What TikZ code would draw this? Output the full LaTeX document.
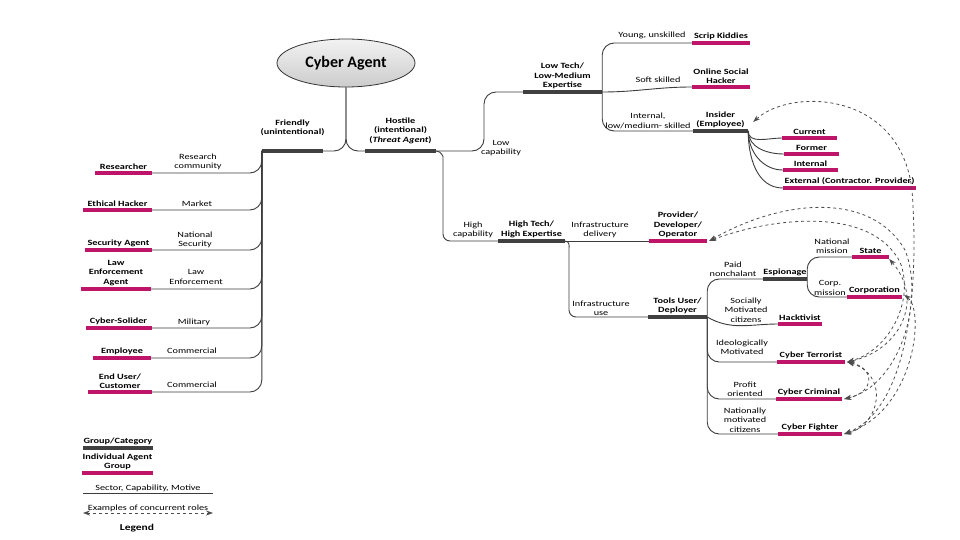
\documentclass[tikz,border=0pt]{standalone}
\usepackage{fontspec}
\setmainfont{Carlito}
\newfontfamily\diafont{Carlito}[FakeStretch=1.28]
\usepackage{tikz}
\usepackage{xcolor}
\usetikzlibrary{shapes.geometric, arrows.meta}

\definecolor{grpgray}{RGB}{64,64,64}
\definecolor{agtpink}{RGB}{190,20,105}
\definecolor{linkgray}{RGB}{60,60,60}
\newcommand{\diasize}{\fontsize{8}{9.3}\selectfont}

\tikzset{
    grp/.style={fill=grpgray, inner sep=0pt, minimum height=4pt},
    agt/.style={fill=agtpink, inner sep=0pt, minimum height=4pt},
    txt/.style={font=\diafont\diasize\bfseries, align=center, inner sep=1pt},
    lbl/.style={font=\diafont\diasize, align=center, inner sep=1pt},
    link/.style={draw=linkgray, line width=0.9pt, rounded corners=12pt},
    concur/.style={draw=black!70, dashed, line width=0.8pt, {Stealth[length=7pt,width=5pt]}-{Stealth[length=7pt,width=5pt]}},
}

\begin{document}
\begin{tikzpicture}[x=1pt, y=-1pt]
    \useasboundingbox (0,0) rectangle (960,540);

    \node[ellipse, draw=black!80, line width=0.8pt, top color=gray!10, bottom color=gray!40, minimum width=138pt, minimum height=48pt, font=\fontsize{16}{18}\selectfont\bfseries] (ca) at (346,63) {Cyber Agent};

    \node[grp, minimum width=61pt, label={[txt, label distance=12pt]above:{Friendly\\(unintentional)}}] (fr) at (292.5,151) {};
    \node[grp, minimum width=71pt, label={[txt, label distance=4pt]above:{Hostile\\(intentional)\\(\textit{Threat Agent})}}] (hos) at (400.5,151) {};
    \draw[link] (ca.south) |- (fr.east);
    \draw[link] (ca.south) |- (hos.west);

    \node[agt, minimum width=57pt, label={[txt]above:Researcher}] (res) at (123.5,173) {};
    \node[agt, minimum width=69pt, label={[txt]above:Ethical Hacker}] (eth) at (117.5,210) {};
    \node[agt, minimum width=67pt, label={[txt]above:Security Agent}] (sec) at (118.5,250) {};
    \node[agt, minimum width=70pt, label={[txt]above:{Law\\Enforcement\\Agent}}] (law) at (116,289) {};
    \node[agt, minimum width=66pt, label={[txt]above:Cyber-Solider}] (sol) at (118.5,328) {};
    \node[agt, minimum width=58pt, label={[txt]above:Employee}] (emp) at (122,358) {};
    \node[agt, minimum width=64pt, label={[txt]above:{End User/\\Customer}}] (enduser) at (120,392) {};
    \draw[link] (fr.west) |- (res.east);
    \draw[link] (fr.west) |- (eth.east);
    \draw[link] (fr.west) |- (sec.east);
    \draw[link] (fr.west) |- (law.east);
    \draw[link] (fr.west) |- (sol.east);
    \draw[link] (fr.west) |- (emp.east);
    \draw[link] (fr.west) |- (enduser.east);
    \node[lbl] (l-res) at (198,162) {Research\\community};
    \node[lbl] (l-eth) at (197,204) {Market};
    \node[lbl] (l-sec) at (195,240) {National\\Security};
    \node[lbl] (l-law) at (196,277) {Law\\Enforcement};
    \node[lbl] (l-sol) at (194,322) {Military};
    \node[lbl] (l-emp) at (192,351) {Commercial};
    \node[lbl] (l-end) at (192,385) {Commercial};

    \node[grp, minimum width=79pt, label={[txt]above:{Low Tech/\\Low-Medium\\Expertise}}] (low) at (562.5,92) {};
    \node[grp, minimum width=67pt, label={[txt]above:{High Tech/\\High Expertise}}] (ht) at (531.5,241) {};
    \draw[link] (hos.east) -- (484,151) |- (low.west);
    \draw[link, rounded corners=7pt] (hos.east) to[out=0,in=90] (443,163) |- (ht.west);
    \node[lbl] (l-low) at (501,148) {Low\\capability};
    \node[lbl] (l-ht) at (473,230) {High\\capability};

    \node[agt, minimum width=58pt, label={[txt]above:Scrip Kiddies}] (sk) at (721,43) {};
    \node[agt, minimum width=58pt, label={[txt]above:{Online Social\\Hacker}}] (osh) at (721,87) {};
    \node[grp, minimum width=55pt, label={[txt]above:{Insider\\(Employee)}}] (ins) at (720.5,131) {};
    \draw[link] (low.east) |- (sk.west);
    \draw[link] (low.east) to[out=0,in=180] (osh.west);
    \draw[link] (low.east) |- (ins.west);
    \node[lbl] (l-sk) at (652,35) {Young, unskilled};
    \node[lbl] (l-osh) at (658,80) {Soft skilled};
    \node[lbl] (l-ins) at (648,121) {Internal,\\low/medium- skilled};

    \node[agt, minimum width=55pt, label={[txt]above:Current}] (cur) at (809.5,138) {};
    \node[agt, minimum width=55pt, label={[txt]above:Former}] (former) at (811.5,154) {};
    \node[agt, minimum width=55pt, label={[txt]above:Internal}] (int) at (810.5,170) {};
    \node[agt, minimum width=133pt, label={[txt]above:External (Contractor. Provider)}] (ext) at (849.5,188) {};
    \draw[link] (ins.east) to[out=-90,in=180] (cur.west);
    \draw[link] (ins.east) to[out=-90,in=180] (former.west);
    \draw[link] (ins.east) to[out=-90,in=180] (int.west);
    \draw[link] (ins.east) to[out=-90,in=180] (ext.west);

    \node[agt, minimum width=58pt, label={[txt]above:{Provider/\\Developer/\\Operator}}] (prov) at (678,241) {};
    \node[grp, minimum width=59pt, label={[txt]above:{Tools User/\\Deployer}}] (tools) at (677.5,317) {};
    \draw[link] (ht.east) -- (prov.west);
    \draw[link, rounded corners=7pt] (ht.east) to[out=0,in=90] (569,253) |- (tools.west);
    \node[lbl] (l-prov) at (600,230) {Infrastructure\\delivery};
    \node[lbl] (l-tools) at (601,308) {Infrastructure\\use};

    \node[grp, minimum width=44pt, label={[txt]above:Espionage}] (esp) at (785,279) {};
    \node[agt, minimum width=44pt, label={[txt]above:Hacktivist}] (hack) at (800,324) {};
    \node[agt, minimum width=68pt, label={[txt]above:Cyber Terrorist}] (ter) at (811,362) {};
    \node[agt, minimum width=66pt, label={[txt]above:Cyber Criminal}] (crim) at (809,399) {};
    \node[agt, minimum width=64pt, label={[txt]above:Cyber Fighter}] (fig) at (810,434) {};
    \draw[link] (tools.east) |- (esp.west);
    \draw[link] (tools.east) to[out=-30,in=180] (hack.west);
    \draw[link] (tools.east) |- (ter.west);
    \draw[link] (tools.east) |- (crim.west);
    \draw[link] (tools.east) |- (fig.west);
    \node[lbl] (l-esp) at (733,269) {Paid\\nonchalant};
    \node[lbl] (l-hack) at (746,310) {Socially\\Motivated\\citizens};
    \node[lbl] (l-ter) at (742,347) {Ideologically\\Motivated};
    \node[lbl] (l-crim) at (745,389) {Profit\\oriented};
    \node[lbl] (l-fig) at (745,420) {Nationally\\motivated\\citizens};

    \node[agt, minimum width=37pt, label={[txt]above:State}] (state) at (870.5,257) {};
    \node[agt, minimum width=55pt, label={[txt]above:Corporation}] (corp) at (874.5,297) {};
    \draw[link] (esp.east) |- (state.west);
    \draw[link] (esp.east) |- (corp.west);
    \node[lbl] (l-state) at (832,246) {National\\mission};
    \node[lbl] (l-corp) at (830,288) {Corp.\\mission};

    \draw[concur] ([xshift=5pt,yshift=9pt]ins.east) .. controls (790,88) and (900,90) .. (912,190) .. controls (920,300) and (905,410) .. ([xshift=2pt]fig.east);
    \draw[concur] ([xshift=2pt]prov.east) .. controls (780,200) and (870,190) .. (905,250) .. controls (925,300) and (900,385) .. ([xshift=2pt]crim.east);
    \draw[concur] ([xshift=2pt]prov.east) .. controls (770,218) and (870,205) .. (900,262) .. controls (915,300) and (890,350) .. ([xshift=2pt]ter.east);
    \draw[concur] ([yshift=-2pt]state.east) .. controls (925,300) and (900,350) .. ([xshift=2pt]ter.east);
    \draw[concur] ([xshift=2pt,yshift=2pt]corp.east) .. controls (925,310) and (915,410) .. ([xshift=2pt]fig.east);
    \draw[concur] ([xshift=2pt]ter.east) .. controls (875,368) and (875,392) .. ([xshift=2pt]crim.east);
    \draw[concur] ([xshift=2pt]ter.east) .. controls (890,375) and (880,425) .. ([xshift=2pt]fig.east);

    \node[grp, minimum width=70pt, label={[txt]above:Group/Category}] (lg-grp) at (118,448) {};
    \node[agt, minimum width=71pt, label={[txt]above:{Individual Agent\\Group}}] (lg-agt) at (117.5,473) {};
    \coordinate (lg-a) at (83,493);
    \coordinate (lg-b) at (213,493);
    \draw[link] (lg-a) -- (lg-b) node[lbl, midway, above] (lg-sec) {Sector, Capability, Motive};
    \coordinate (lg-c) at (83,513);
    \coordinate (lg-d) at (213,513);
    \draw[concur] (lg-c) -- (lg-d) node[lbl, midway, above] (lg-ex) {Examples of concurrent roles};
    \node[txt, font=\diafont\fontsize{9}{10}\selectfont\bfseries] (lg-title) at (137,528) {Legend};
\end{tikzpicture}
\end{document}
